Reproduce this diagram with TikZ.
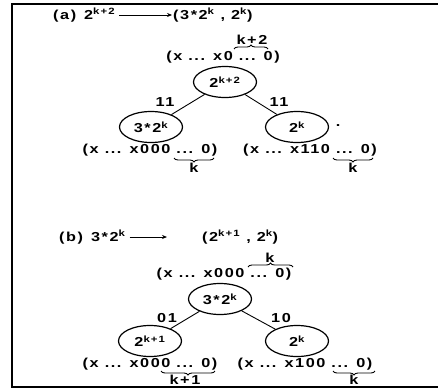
\documentclass[tikz,border=0pt]{standalone}
\usepackage{fontspec}
\setmainfont{Liberation Sans}[LetterSpace=12,FakeStretch=1.25]
\usetikzlibrary{decorations.pathreplacing,arrows.meta,shapes.geometric}
\begin{document}
\begin{tikzpicture}[x=1pt,y=-1pt,
  every node/.style={font=\fontsize{13}{15}\selectfont\bfseries, inner sep=1pt},
  st/.style={draw, ellipse, minimum width=63pt, minimum height=31pt, line width=1.2pt, inner sep=0pt},
  edge/.style={line width=0.9pt},
  brc/.style={decorate, decoration={brace, amplitude=4pt}, line width=0.9pt},
  arr/.style={-{Stealth[length=5pt,width=4pt]}, line width=0.8pt},
  frame/.style={line width=1.5pt}]
\useasboundingbox (0,0) rectangle (438,391);
% frame
\draw[frame] (438,4) -- (12,4) -- (12,387) -- (438,387);

% ---- (a) ----
\node[anchor=west] (ta) at (52,15) {(a)\hspace{8pt}2\textsuperscript{k+2}};
\node[anchor=west] (tau) at (172,15) {(3*2\textsuperscript{k} , 2\textsuperscript{k})};
\draw[arr, shorten <=3pt] (ta) -- (tau);

\node (alab) at (223,57) {(x ... x0 ... 0)};
\draw[brc] (234,49) -- (268,49);
\node (ak2) at (252,40) {k+2};

\node[st] (aroot) at (225,82) {2\textsuperscript{k+2}};
\node[st] (aleft) at (151,127) {3*2\textsuperscript{k}};
\node[st] (aright) at (297,127) {2\textsuperscript{k}};
\node (adot) at (338,126) {.};
\draw[edge] (aroot) -- (aleft);
\draw[edge] (aroot) -- (aright);
\node (a11l) at (165,102) {11};
\node (a11r) at (279,102) {11};

\node (aleftlab) at (150,150) {(x ... x000 ... 0)};
\node (arightlab) at (310,150) {(x ... x110 ... 0)};
\draw[brc] (214,158) -- (174,158);
\node (ak1) at (194,168) {k};
\draw[brc] (373,158) -- (333,158);
\node (ak3) at (353,168) {k};

% ---- (b) ----
\node[anchor=west] (tb) at (58,237) {(b)\hspace{8pt}3*2\textsuperscript{k}};
\node[anchor=west] (tbu) at (201,237) {(2\textsuperscript{k+1} , 2\textsuperscript{k})};
\draw[arr, shorten <=3pt, shorten >=34pt] (tb) -- (tbu);

\node (blab) at (224,274) {(x ... x000 ... 0)};
\draw[brc] (248,267) -- (293,267);
\node (bk) at (270,258) {k};

\node[st] (broot) at (220,299) {3*2\textsuperscript{k}};
\node[st] (bleft) at (150,341) {2\textsuperscript{k+1}};
\node[st] (bright) at (297,341) {2\textsuperscript{k}};
\draw[edge] (broot) -- (bleft);
\draw[edge] (broot) -- (bright);
\node (b01) at (167,318) {01};
\node (b10) at (281,318) {10};

\node (bleftlab) at (150,364) {(x ... x000 ... 0)};
\node (brightlab) at (305,364) {(x ... x100 ... 0)};
\draw[brc] (215,371) -- (161,371);
\node (bk1) at (185,380) {k+1};
\draw[brc] (375,371) -- (333,371);
\node (bk2) at (354,380) {k};
\end{tikzpicture}
\end{document}
